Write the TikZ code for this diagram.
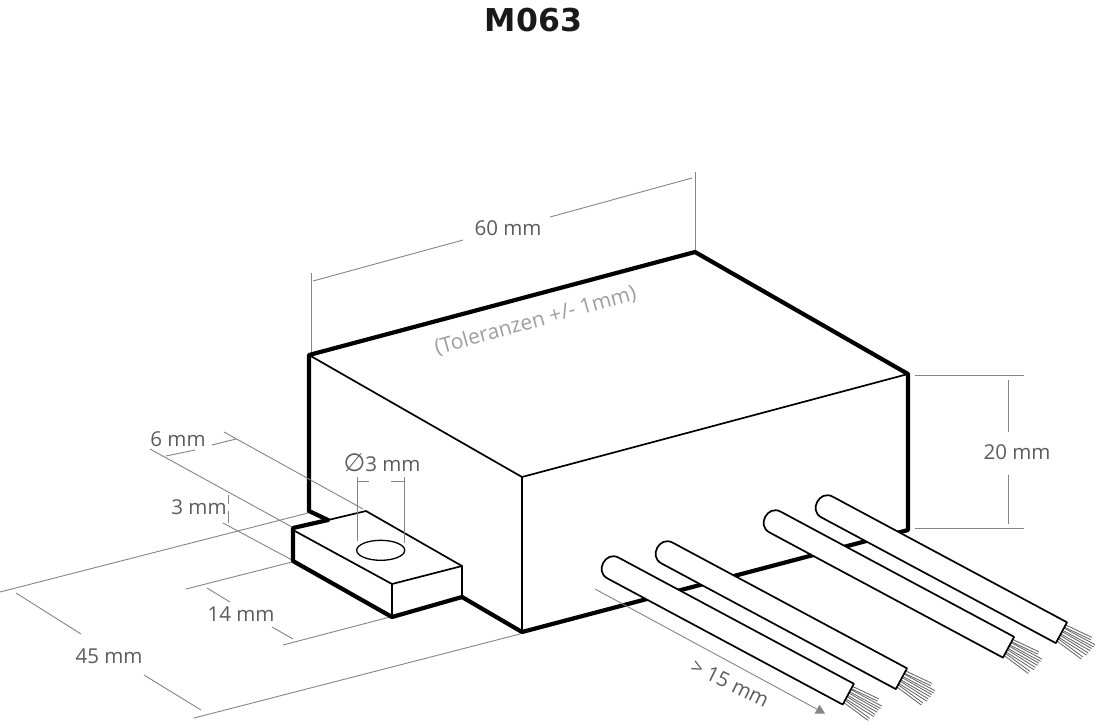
\documentclass[tikz,border=0pt]{standalone}
\usepackage{fontspec}
\setmainfont{Open Sans}
\newfontfamily\titlefont[Scale=1]{DejaVu Sans}
\newfontfamily\symfont{DejaVu Sans}
\usetikzlibrary{arrows.meta}
\definecolor{dimtext}{gray}{0.36}
\definecolor{dimline}{gray}{0.52}
\tikzset{
  thick outline/.style={draw=black,line width=4.2pt,line join=round,line cap=round},
  thin outline/.style={draw=black,line width=1.7pt,line join=round,line cap=round},
  dimension/.style={draw=dimline,line width=0.9pt},
  label text/.style={text=dimtext,font=\fontsize{20.5}{24}\selectfont,inner sep=0pt},
  strand outer/.style={draw=black!62,line width=3.4pt,line cap=butt},
  strand inner/.style={draw=white,line width=1.5pt,line cap=butt},
}
\newcommand{\strand}[3]{%
  \draw[strand outer] (#1-1,#2) -- ++(#3);
  \draw[strand inner] (#1-1,#2) -- ++(#3);
}
\newcommand{\wire}[3]{%
  \begin{scope}[shift={(#1,#2)},rotate=-28.2]
    \strand{#3}{-7.5}{30,-1.5}
    \strand{#3}{8}{31,4.5}
    \strand{#3}{4}{34,2.5}
    \strand{#3}{0}{35,1}
    \strand{#3}{-4}{36,0}
    \path[fill=white,draw=black,line width=1.7pt,line join=round]
      (#3,-11.8) -- (0,-11.8) .. controls (-14.8,-11.8) and (-14.8,11.8) .. (0,11.8) -- (#3,11.8) -- cycle;
  \end{scope}
}
\begin{document}
\begin{tikzpicture}[x=1pt,y=-1pt]
\useasboundingbox (0,0) rectangle (1100,724);
\fill[white] (0,0) rectangle (1100,724);

\node[inner sep=0pt,font=\titlefont\bfseries\fontsize{31.5}{36}\selectfont,text=black!90] (title) at (533.5,20) {M063};

% dimension lines behind the body
\draw[dimension] (311,273) -- (311,352);
\draw[dimension] (695,172) -- (695,250);
\draw[dimension] (313,281) -- (463,240);
\draw[dimension] (550,217) -- (692,178);
\draw[dimension] (915,375) -- (1024,375);
\draw[dimension] (915,528.5) -- (1024,528.5);
\draw[dimension] (1008,380) -- (1008,432);
\draw[dimension] (1008,475) -- (1008,524);
\draw[dimension] (0,592) -- (308,513);
\draw[dimension] (194,718) -- (520,634);
\draw[dimension] (16,593) -- (81,634);
\draw[dimension] (144,675) -- (201,710);
\draw[dimension] (186,589) -- (292,562);
\draw[dimension] (283,645) -- (390,617);
\draw[dimension] (207,588) -- (230,602);
\draw[dimension] (272,627) -- (293,639);
\draw[dimension] (150,449) -- (292,527);
\draw[dimension] (223,523) -- (292,560);
\draw[dimension] (166,456) -- (195,450);
\draw[dimension] (212,445) -- (236,439);
\draw[dimension] (228.7,495) -- (228.7,504);
\draw[dimension] (228.7,511) -- (228.7,523);

% body
\path[fill=white] (309,355) -- (695,252) -- (908,374) -- (908,530) -- (522,632) -- (462,597) -- (392,617) -- (293,561) -- (293,528) -- (328,520) -- (309,511) -- cycle;
\draw[thin outline] (309,355) -- (522,477) -- (908,374);
\draw[thin outline] (522,477) -- (522,632);
\draw[thick outline] (309,511) -- (309,355) -- (695,252) -- (908,374) -- (908,530) -- (522,632) -- (462,597);
\draw[thick outline] (309,511) -- (328,520);

% line over the body
\draw[dimension] (224,432) -- (363,509);

% tab
\path[fill=white] (293,528) -- (366,511) -- (462,566) -- (462,597) -- (392,617) -- (293,561) -- cycle;
\draw[thin outline] (328,520) -- (366,511) -- (462,566) -- (462,597);
\draw[thin outline] (293,530) -- (392,584) -- (462,566);
\draw[thin outline] (392,584) -- (392,617);
\draw[thick outline] (328,520) -- (293,528) -- (293,561) -- (392,617) -- (462,597);
\draw[black,line width=1.3pt] (380.7,550.3) ellipse[x radius=24,y radius=10];

% hole dimension
\draw[dimension] (357,477) -- (357,541);
\draw[dimension] (404,477) -- (404,543);
\draw[dimension] (357,481) -- (369,481);
\draw[dimension] (391,481) -- (404,481);

% >15 mm dimension
\draw[dimension,-{Triangle[length=9pt,width=10pt]}] (595,589) -- (825,713.5);

% wires
\wire{827}{507}{266}
\wire{775}{522}{265}
\wire{667}{553}{266}
\wire{613}{568}{267}

% labels
\node[label text] (d60) at (508,228) {60 mm};
\node[label text,text=black!38,font=\fontsize{21}{24}\selectfont,rotate=15.5] (tol) at (535.5,321) {(Toleranzen +/- 1mm)};
\node[label text] (d20) at (1017,452) {20 mm};
\node[label text] (d6) at (178,439) {6 mm};
\node[label text] (d3) at (199,507) {3 mm};
\node[label text] (dh) at (382,463) {{\symfont\fontsize{25}{28}\selectfont ∅}3 mm};
\node[label text] (d14) at (241,614) {14 mm};
\node[label text] (d45) at (109,656) {45 mm};
\node[label text,rotate=-26] (d15) at (730,683) {> 15 mm};
\end{tikzpicture}
\end{document}
